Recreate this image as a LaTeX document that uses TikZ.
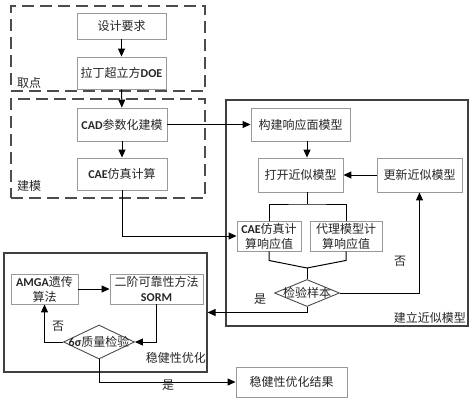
\documentclass[tikz,border=0pt]{standalone}
\usepackage{fontspec}
\newfontfamily\cjk{Noto Sans CJK SC}
\newfontfamily\lat{Carlito}
\usetikzlibrary{arrows.meta,shapes.geometric}
\newcommand{\LT}[1]{{\lat\bfseries #1}}
\begin{document}
\begin{tikzpicture}[x=1pt,y=-1pt,
  box/.style={draw=black!40, line width=0.9pt, fill=white, inner sep=0pt,
    font=\cjk\fontsize{12}{15}\selectfont, align=center, text=black!85},
  arr/.style={-{Triangle[length=8pt,width=7pt]}, line width=1pt},
  ln/.style={line width=1pt},
  dbox/.style={draw=black!70, dash pattern=on 12pt off 6pt, line width=1.1pt, inner sep=0pt},
  sbox/.style={draw=black!75, line width=1.1pt, inner sep=0pt},
  dia/.style={draw=black!70, line width=0.9pt, diamond, inner sep=0pt, fill=white},
  lab/.style={font=\cjk\fontsize{12}{14}\selectfont, inner sep=0pt, text=black!85}]
\useasboundingbox (0,0) rectangle (474,402);
% group frames
\node[dbox, minimum width=194, minimum height=85] (gqd) at (108,48.5) {};
\node[dbox, minimum width=194, minimum height=99] (gjm) at (108,148.5) {};
\node[sbox, minimum width=242, minimum height=226] (gjl) at (347,213) {};
\node[sbox, minimum width=203, minimum height=119] (gopt) at (105.5,312.5) {};
\node[lab, anchor=west] (tqd) at (17,83) {取点};
\node[lab, anchor=west] (tjm) at (17,186) {建模};
\node[lab, anchor=east] (tjl) at (466,318) {建立近似模型};
\node[lab, anchor=east] (topt) at (206,358) {稳健性优化};
% boxes
\node[box, minimum width=89, minimum height=26] (sj) at (121.5,26) {设计要求};
\node[box, minimum width=89, minimum height=32] (lh) at (121.5,73) {拉丁超立方\LT{DOE}};
\node[box, minimum width=90, minimum height=33] (cad) at (122,124.5) {\LT{CAD}参数化建模};
\node[box, minimum width=90, minimum height=32] (cae) at (122,174) {\LT{CAE}仿真计算};
\node[box, minimum width=99, minimum height=33] (gj) at (300.5,124.5) {构建响应面模型};
\node[box, minimum width=85, minimum height=34] (dk) at (300.5,175) {打开近似模型};
\node[box, minimum width=85, minimum height=34] (gx) at (419.5,175) {更新近似模型};
\node[box, minimum width=64, minimum height=30] (r1) at (269,236) {\LT{CAE}仿真计\\算响应值};
\node[box, minimum width=72, minimum height=30] (r2) at (346,236) {代理模型计\\算响应值};
\node[dia, minimum width=65, minimum height=27] (d1) at (307,293) {};
\node[lab] (d1t) at (d1) {检验样本};
\node[box, minimum width=67, minimum height=30] (amga) at (44.5,289) {\LT{AMGA}遗传\\算法};
\node[box, minimum width=93, minimum height=30] (sorm) at (156.5,289) {二阶可靠性方法\\\LT{SORM}};
\node[dia, minimum width=71, minimum height=34] (d2) at (99,342) {};
\node[lab] (d2t) at (d2) {\LT{6σ}质量检验};
\node[box, minimum width=111, minimum height=30] (res) at (291.5,382) {稳健性优化结果};
% connectors
\draw[arr] (sj) -- (lh);
\draw[arr] (lh) -- (cad);
\draw[arr] (cad) -- (cae);
\draw[arr] (cad) -- (gj);
\draw[arr] ([xshift=6.5pt]gj.south) -- ([xshift=6.5pt]dk.north);
\draw[arr] (gx) -- (dk);
\coordinate (b1) at (307,204);
\coordinate (b2) at (307,268);
\draw[ln] ([xshift=6.5pt]dk.south) -- (b1);
\draw[ln] (r1.north) |- (b1) -| (r2.north);
\draw[ln] (r1.south) -- ++(0,9) -- (b2);
\draw[ln] (r2.south) -- ++(0,9) -- (b2);
\draw[ln] (b2) -- (d1.north);
\draw[arr] (cae.south) |- (r1.west);
\draw[arr] (d1.east) -| (gx.south);
\draw[arr] (d1.south) |- (gopt.east);
\draw[arr] (amga) -- (sorm);
\draw[arr] (sorm.south) |- (d2.east);
\draw[arr] (d2.west) -| (amga.south);
\draw[arr] (d2.south) |- (res.west);
% branch labels
\node[lab] (n1) at (400,261) {否};
\node[lab] (y1) at (260,299) {是};
\node[lab] (n2) at (58,326) {否};
\node[lab] (y2) at (168,385) {是};
\end{tikzpicture}
\end{document}
